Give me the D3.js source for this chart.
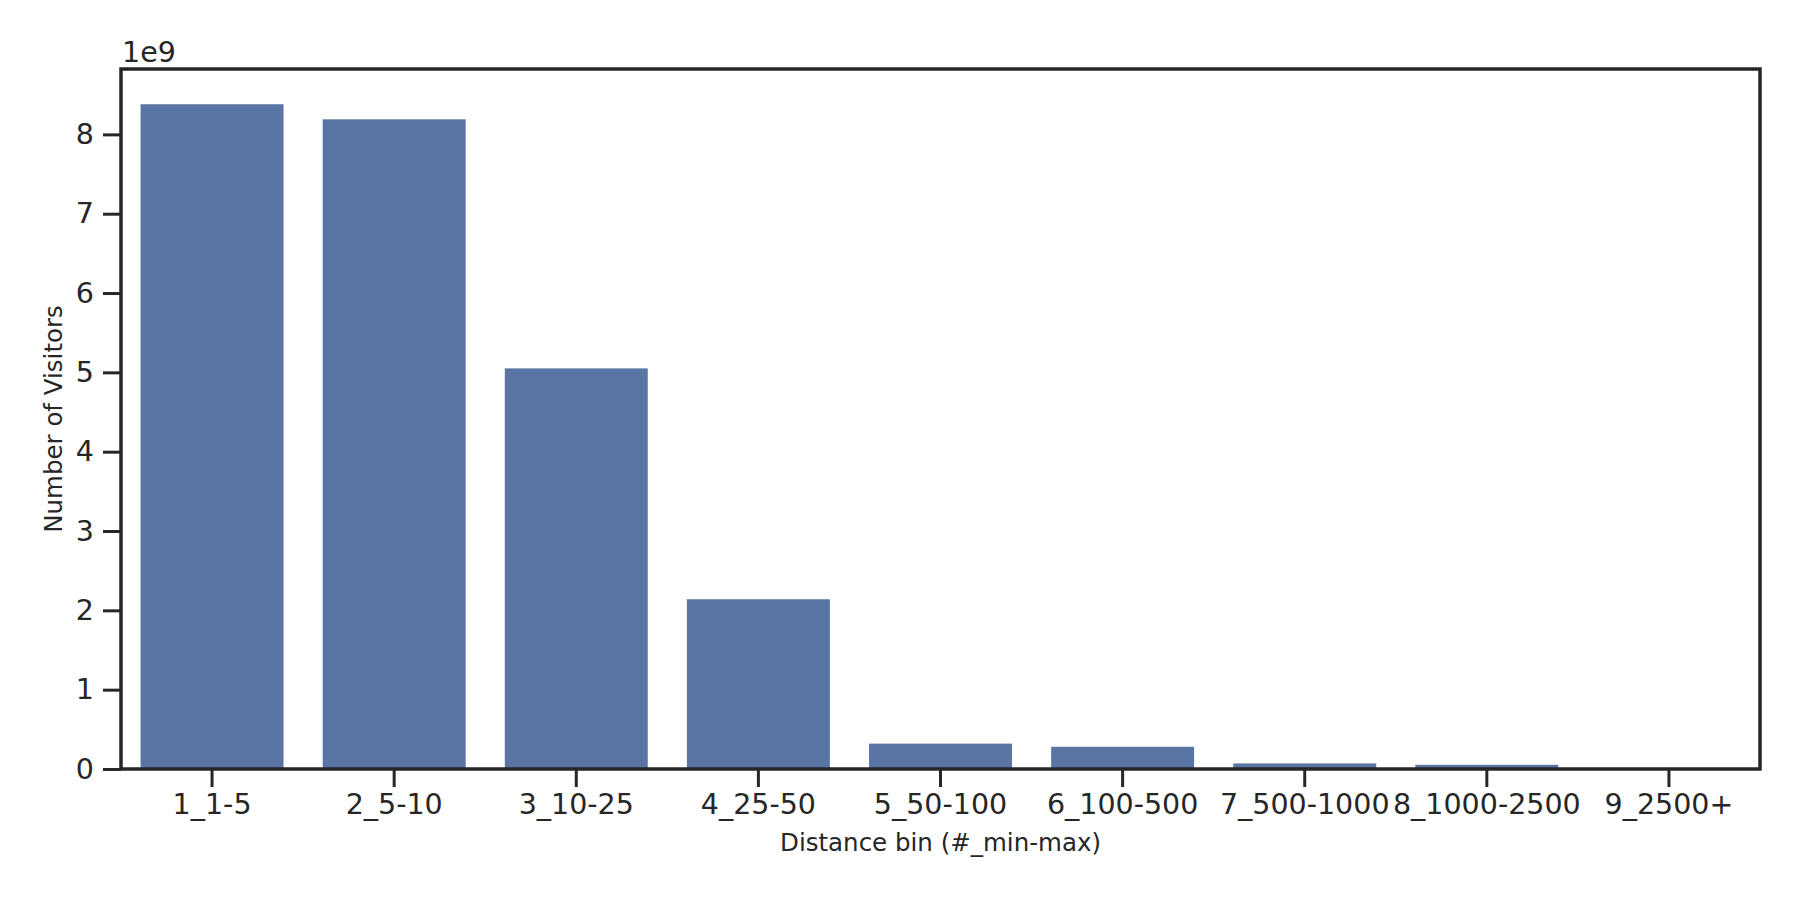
<!doctype html>
<html>
<head>
    <meta charset="utf-8" />
    <title>Visitors by distance bin</title>
    <script src="https://cdn.jsdelivr.net/npm/d3@7"></script>
    <style>
        html, body { margin: 0; padding: 0; background: #fff; }
        svg text { font-family: "DejaVu Sans", sans-serif; fill: #262626; }
    </style>
</head>
<body>
    <svg id="chart"></svg>

    <script>
        // distance bins and visitor counts (in units of 1e9)
        const bins = ["1_1-5", "2_5-10", "3_10-25", "4_25-50", "5_50-100",
                      "6_100-500", "7_500-1000", "8_1000-2500", "9_2500+"];
        const visitors = [8.38, 8.19, 5.05, 2.14, 0.32, 0.28, 0.07, 0.053, 0.004];
        const yTicks = [0, 1, 2, 3, 4, 5, 6, 7, 8];

        const width = 1800, height = 900;
        const margin = {top: 69, right: 40, bottom: 131, left: 121};
        const ink = "#262626";
        const tickFont = 28.5;

        const svg = d3.select("#chart")
            .attr("width", width)
            .attr("height", height);

        const data = bins.map((b, i) => ({bin: b, value: visitors[i]}));

        const x = d3.scaleBand()
            .domain(bins)
            .range([margin.left, width - margin.right])
            .paddingInner(0.2)
            .paddingOuter(0.1);

        const y = d3.scaleLinear()
            .domain([0, d3.max(visitors) * 1.053])
            .range([height - margin.bottom, margin.top]);

        // bars are a touch narrower than the band
        const barW = x.step() * 0.785;

        svg.append("g")
            .attr("fill", "#5875a4")
            .selectAll("rect")
            .data(data)
            .join("rect")
            .attr("x", d => x(d.bin) + x.bandwidth() / 2 - barW / 2)
            .attr("width", barW)
            .attr("y", d => y(d.value))
            .attr("height", d => y(0) - y(d.value));

        // x axis
        const xAxis = svg.append("g")
            .attr("transform", `translate(0,${height - margin.bottom})`)
            .call(d3.axisBottom(x).tickSize(18).tickPadding(7));
        xAxis.select(".domain").remove();
        xAxis.selectAll(".tick line").attr("stroke", ink).attr("stroke-width", 3);
        xAxis.selectAll(".tick text").attr("font-size", tickFont).attr("fill", ink);

        // y axis
        const yAxis = svg.append("g")
            .attr("transform", `translate(${margin.left},0)`)
            .call(d3.axisLeft(y).tickValues(yTicks).tickFormat(d3.format("d")).tickSize(18).tickPadding(9));
        yAxis.select(".domain").remove();
        yAxis.selectAll(".tick line").attr("stroke", ink).attr("stroke-width", 3);
        yAxis.selectAll(".tick text").attr("font-size", tickFont).attr("fill", ink);

        // frame
        svg.append("rect")
            .attr("x", margin.left)
            .attr("y", margin.top)
            .attr("width", width - margin.left - margin.right)
            .attr("height", height - margin.top - margin.bottom)
            .attr("fill", "none")
            .attr("stroke", ink)
            .attr("stroke-width", 3.5);

        // offset text
        svg.append("text")
            .attr("x", margin.left + 1)
            .attr("y", margin.top - 7)
            .attr("font-size", tickFont)
            .text("1e9");

        // axis labels
        svg.append("text")
            .attr("x", (margin.left + width - margin.right) / 2)
            .attr("y", 851)
            .attr("text-anchor", "middle")
            .attr("font-size", 24.5)
            .text("Distance bin (#_min-max)");

        svg.append("text")
            .attr("transform", `translate(62,${(margin.top + height - margin.bottom) / 2}) rotate(-90)`)
            .attr("text-anchor", "middle")
            .attr("font-size", 24.5)
            .text("Number of Visitors");
    </script>
</body>
</html>
